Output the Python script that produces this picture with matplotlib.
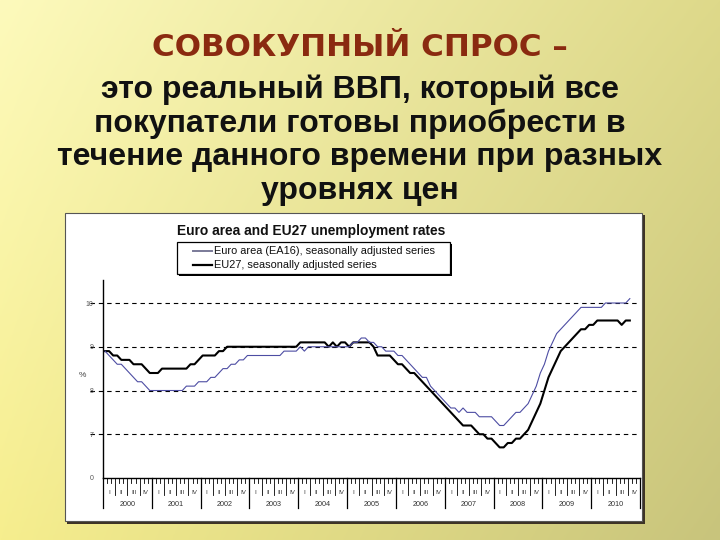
import numpy as np
import matplotlib
matplotlib.use("Agg")
import matplotlib.pyplot as plt
from matplotlib.patches import Rectangle
from matplotlib.lines import Line2D

# slide text
slide_title = "СОВОКУПНЫЙ СПРОС –"
slide_lines = ["это реальный ВВП, который все",
               "покупатели готовы приобрести в",
               "течение данного времени при разных",
               "уровнях цен"]

chart_title = "Euro area and EU27 unemployment rates"
label_ea16 = "Euro area (EA16), seasonally adjusted series"
label_eu27 = "EU27, seasonally adjusted series"

years = [str(y) for y in range(2000, 2011)]
quarters = ["I", "II", "III", "IV"]
# broken axis: the bottom line (6) is labelled 0
y_ticks = [6, 7, 8, 9, 10]
y_tick_labels = ["0", "7", "8", "9", "10"]

# monthly values, Jan 2000 .. Oct 2010
ea16 = [8.9, 8.8, 8.7, 8.6, 8.6, 8.5, 8.4, 8.3, 8.2, 8.2, 8.1, 8.0,
        8.0, 8.0, 8.0, 8.0, 8.0, 8.0, 8.0, 8.0, 8.1, 8.1, 8.1, 8.2,
        8.2, 8.2, 8.3, 8.3, 8.4, 8.5, 8.5, 8.6, 8.6, 8.7, 8.7, 8.8,
        8.8, 8.8, 8.8, 8.8, 8.8, 8.8, 8.8, 8.8, 8.9, 8.9, 8.9, 8.9,
        9.0, 8.9, 9.0, 9.0, 9.0, 9.0, 9.0, 9.0, 9.0, 9.0, 9.0, 9.0,
        9.0, 9.1, 9.1, 9.2, 9.2, 9.1, 9.1, 9.0, 9.0, 8.9, 8.9, 8.9,
        8.8, 8.8, 8.7, 8.6, 8.5, 8.4, 8.3, 8.3, 8.1, 8.0, 7.9, 7.8,
        7.7, 7.6, 7.6, 7.5, 7.6, 7.5, 7.5, 7.5, 7.4, 7.4, 7.4, 7.4,
        7.3, 7.2, 7.2, 7.3, 7.4, 7.5, 7.5, 7.6, 7.7, 7.9, 8.1, 8.4,
        8.6, 8.9, 9.1, 9.3, 9.4, 9.5, 9.6, 9.7, 9.8, 9.9, 9.9, 9.9,
        9.9, 9.9, 9.9, 10.0, 10.0, 10.0, 10.0, 10.0, 10.0, 10.1]

eu27 = [8.9, 8.9, 8.8, 8.8, 8.7, 8.7, 8.7, 8.6, 8.6, 8.6, 8.5, 8.4,
        8.4, 8.4, 8.5, 8.5, 8.5, 8.5, 8.5, 8.5, 8.5, 8.6, 8.6, 8.7,
        8.8, 8.8, 8.8, 8.8, 8.9, 8.9, 9.0, 9.0, 9.0, 9.0, 9.0, 9.0,
        9.0, 9.0, 9.0, 9.0, 9.0, 9.0, 9.0, 9.0, 9.0, 9.0, 9.0, 9.0,
        9.1, 9.1, 9.1, 9.1, 9.1, 9.1, 9.1, 9.0, 9.1, 9.0, 9.1, 9.1,
        9.0, 9.1, 9.1, 9.1, 9.1, 9.1, 9.0, 8.8, 8.8, 8.8, 8.8, 8.7,
        8.6, 8.6, 8.5, 8.4, 8.4, 8.3, 8.2, 8.1, 8.0, 7.9, 7.8, 7.7,
        7.6, 7.5, 7.4, 7.3, 7.2, 7.2, 7.2, 7.1, 7.0, 7.0, 6.9, 6.9,
        6.8, 6.7, 6.7, 6.8, 6.8, 6.9, 6.9, 7.0, 7.1, 7.3, 7.5, 7.7,
        8.0, 8.3, 8.5, 8.7, 8.9, 9.0, 9.1, 9.2, 9.3, 9.4, 9.4, 9.5,
        9.5, 9.6, 9.6, 9.6, 9.6, 9.6, 9.6, 9.5, 9.6, 9.6]

W, H = 720, 540
plt.rcParams['font.family'] = ['Liberation Sans', 'DejaVu Sans']

fig = plt.figure(figsize=(W / 100, H / 100), dpi=100)

def fx(px):
    return px / W

def fy(py):
    return 1 - py / H

# yellow slide background (lighter top-left, olive to the right)
bg = fig.add_axes([0, 0, 1, 1], zorder=-10)
u = np.linspace(0, 1, 300)[None, :, None]
v = np.linspace(0, 1, 200)[:, None, None]
tl = np.array([253, 250, 188]) / 255
tr = np.array([222, 217, 138]) / 255
bl = np.array([246, 238, 142]) / 255
br = np.array([200, 196, 124]) / 255
img = (1 - v) * ((1 - u) * tl + u * tr) + v * ((1 - u) * bl + u * br)
bg.imshow(img, aspect='auto', extent=[0, 1, 0, 1], origin='upper')
bg.axis('off')

# slide heading
fig.text(0.5, fy(47), slide_title, ha='center', va='center',
         fontsize=22.3, fontweight='bold', color='#8a2a10',
         family=['DejaVu Sans'])
for i, line in enumerate(slide_lines):
    fig.text(0.5, fy(90 + 33.5 * i), line, ha='center', va='center',
             fontsize=23, fontweight='bold', color='#111111')

# white chart panel with dark shadow
fig.patches.append(Rectangle((fx(67), fy(524)), fx(643 - 65), 309 / H,
                             transform=fig.transFigure, facecolor='#3d3326',
                             edgecolor='none', zorder=-5))
fig.patches.append(Rectangle((fx(65), fy(521)), fx(642 - 65), 308 / H,
                             transform=fig.transFigure, facecolor='white',
                             edgecolor='#555555', linewidth=0.8, zorder=-4))

fig.text(fx(311), fy(231), chart_title, ha='center', va='center',
         fontsize=9.9, fontweight='bold', color='#111111')

# plot area
ax_l, ax_r, ax_b, ax_t = 103, 640, 478, 280
ax = fig.add_axes([fx(ax_l), fy(ax_b), fx(ax_r - ax_l), (ax_b - ax_t) / H])
ax.patch.set_alpha(0)
n_months = 12 * len(years)
ax.set_xlim(0, n_months)
ax.set_ylim(6, 6 + (ax_b - ax_t) / 43.75)

x = np.arange(len(eu27)) + 0.5
ax.plot(x, ea16, color='#4d4da3', lw=0.8, label=label_ea16, zorder=3)
ax.plot(x, eu27, color='black', lw=1.5, label=label_eu27, zorder=2)

px_month = (ax_r - ax_l) / n_months
for val in y_ticks[1:]:
    ax.hlines(val, -13 / px_month, n_months, colors='black', lw=0.8,
              linestyles=(0, (4, 3.5)), clip_on=False, zorder=1)

for side in ['top', 'right']:
    ax.spines[side].set_visible(False)
ax.spines['left'].set_linewidth(1.0)
ax.spines['bottom'].set_linewidth(1.0)

ax.set_yticks(y_ticks, y_tick_labels)
ax.tick_params(axis='y', length=0, pad=7, labelsize=5, labelcolor='#555555')
ax.set_xticks([])
ax.set_ylabel('%', rotation=0, fontsize=6, color='#444444')
ax.yaxis.set_label_coords(-21 / (ax_r - ax_l), (ax_b - 379) / (ax_b - ax_t))

# month / quarter / year ticks below the axis
hpx = ax_b - ax_t
tr_x = ax.get_xaxis_transform()
for m in range(n_months + 1):
    if m % 12 == 0:
        ln = 30
    elif m % 3 == 0:
        ln = 17
    else:
        ln = 4.5
    ax.plot([m, m], [0, -ln / hpx], color='black', lw=0.9 if m % 12 == 0 else 0.6,
            transform=tr_x, clip_on=False)
for yi, yr in enumerate(years):
    for qi, q in enumerate(quarters):
        ax.text(12 * yi + 3 * qi + 1.5, -14 / hpx, q, transform=tr_x,
                ha='center', va='center', fontsize=4.5, color='#333333')
    ax.text(12 * yi + 6, -27 / hpx, yr, transform=tr_x,
            ha='center', va='center', fontsize=5.2, color='#333333')

# legend box (drawn by hand to match the original spacing)
lg_l, lg_r, lg_t, lg_b = 177, 450, 242, 274
fig.patches.append(Rectangle((fx(lg_l + 2), fy(lg_b + 2)), fx(lg_r - lg_l), (lg_b - lg_t) / H,
                             transform=fig.transFigure, facecolor='black',
                             edgecolor='none', zorder=1))
fig.patches.append(Rectangle((fx(lg_l), fy(lg_b)), fx(lg_r - lg_l), (lg_b - lg_t) / H,
                             transform=fig.transFigure, facecolor='white',
                             edgecolor='black', linewidth=0.9, zorder=2))
legend_items = [(label_ea16, '#7a7a98', 1.4, 251), (label_eu27, 'black', 1.6, 265)]
for lab, col, lw, ypx in legend_items:
    fig.lines.append(Line2D([fx(193), fx(212)], [fy(ypx), fy(ypx)], color=col, lw=lw,
                            transform=fig.transFigure, zorder=3))
    fig.text(fx(213.5), fy(ypx), lab, ha='left', va='center', fontsize=7.9,
             color='#111111', zorder=3)

fig.savefig('out.png', dpi=100)
